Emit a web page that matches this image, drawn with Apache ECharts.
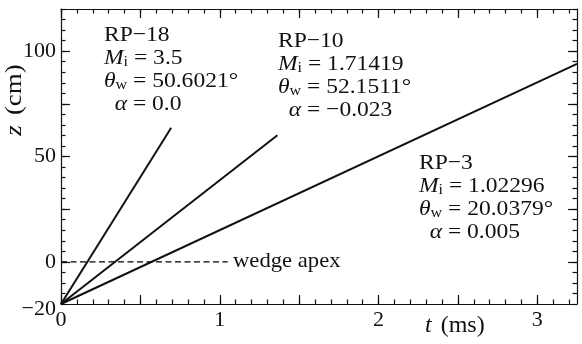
<!DOCTYPE html>
<html>
<head>
<meta charset="utf-8">
<script src="https://cdn.jsdelivr.net/npm/echarts@6/dist/echarts.min.js"></script>
<style>
  html, body { margin: 0; padding: 0; background: #fff; }
  #chart { width: 582px; height: 344px; }
</style>
</head>
<body>
<div id="chart"></div>
<script>
// Reflected-shock trajectories z(t) for three runs, all starting at the origin below the wedge apex
const runNames   = ['RP−18', 'RP−10', 'RP−3'];
const machValues = ['3.5', '1.71419', '1.02296'];
const wedgeAngle = ['50.6021', '52.1511', '20.0379'];
const alphaValue = ['0.0', '−0.023', '0.005'];

const startTime   = 0;      // ms
const startHeight = -20;    // cm
const endTimes    = [0.694, 1.363, 3.25];   // ms
const endHeights  = [63.6, 60.1, 94.0];     // cm

// Wedge apex reference line
const apexTimes   = [0, 1.05];
const apexHeights = [0, 0];
const apexText    = 'wedge apex';

// Axis ranges and ticks
const tRange = [0, 3.25];
const zRange = [-20, 120];
const tLabels = [0, 1, 2, 3];
const zLabels = [-20, 0, 50, 100];
const tMajorStep = 0.5, tMinorStep = 0.1;
const zMajorStep = 25,  zMinorStep = 5;

function stepsFrom(lo, hi, step, anchor) {
  const out = [];
  const first = Math.ceil((lo - anchor) / step - 1e-9);
  for (let k = first; anchor + k * step <= hi + 1e-9; k++) {
    out.push(+(anchor + k * step).toFixed(6));
  }
  return out;
}
const tMajor = stepsFrom(tRange[0], tRange[1], tMajorStep, 0);
const tMinor = stepsFrom(tRange[0], tRange[1], tMinorStep, 0);
const zMajor = stepsFrom(zRange[0], zRange[1], zMajorStep, 0);
const zMinor = stepsFrom(zRange[0], zRange[1], zMinorStep, 0);

const FONT = 'Liberation Serif';
const INK = '#111';
const FS = 22;
const TITLE_FS = 24;

function minusFmt(v) {
  if (v < 0) return '{lo|−' + Math.abs(v) + '}';
  return String(v);
}

function axis(range, position, ticks, len, opts) {
  opts = opts || {};
  return {
    type: 'value',
    position: position,
    min: range[0],
    max: range[1],
    axisLine: { show: !!opts.line, onZero: false, lineStyle: { color: INK, width: 1.2 } },
    axisTick: { show: true, inside: true, length: len, customValues: ticks,
                lineStyle: { color: INK, width: 1.2 } },
    axisLabel: opts.labels ? {
      show: true, customValues: opts.labels, margin: opts.margin,
      color: INK, fontFamily: FONT, fontSize: FS, formatter: minusFmt,
      rich: { lo: { fontFamily: FONT, fontSize: FS, color: INK, padding: [10, 0, 0, 0] } }
    } : { show: false },
    splitLine: { show: false },
    minorTick: { show: false }
  };
}

const xAxes = [
  axis(tRange, 'bottom', tMajor, 9, { line: true, labels: tLabels, margin: 5 }),
  axis(tRange, 'top',    tMajor, 9, { line: true }),
  axis(tRange, 'top',    tMinor, 4.5),
  axis(tRange, 'bottom', tMinor, 4.5)
];
const yAxes = [
  axis(zRange, 'left',  zMajor, 9, { line: true, labels: zLabels, margin: 5 }),
  axis(zRange, 'right', zMajor, 9, { line: true }),
  axis(zRange, 'right', zMinor, 4.5),
  axis(zRange, 'left',  zMinor, 4.5)
];

const trajectorySeries = runNames.map(function (name, i) {
  return {
    name: name,
    type: 'line',
    xAxisIndex: 0, yAxisIndex: 0,
    symbol: 'none',
    clip: true,
    silent: true,
    lineStyle: { color: INK, width: 2 },
    data: [[startTime, startHeight], [endTimes[i], endHeights[i]]]
  };
});

const apexSeries = {
  name: apexText,
  type: 'line',
  xAxisIndex: 0, yAxisIndex: 0,
  symbol: 'none',
  silent: true,
  lineStyle: { color: '#000', width: 1.2, type: [6, 3.5] },
  data: apexTimes.map(function (t, i) { return [t, apexHeights[i]]; })
};

const rich = {
  n:  { fontFamily: FONT, fontSize: FS, lineHeight: 23, fill: INK },
  i:  { fontFamily: FONT, fontSize: FS, lineHeight: 23, fontStyle: 'italic', fill: INK },
  s:  { fontFamily: FONT, fontSize: 15, lineHeight: 13, verticalAlign: 'bottom', fill: INK },
  sp: { fontFamily: FONT, fontSize: FS, lineHeight: 23, width: 10, fill: INK },
  tn: { fontFamily: FONT, fontSize: TITLE_FS, lineHeight: 26, fill: INK },
  ti: { fontFamily: FONT, fontSize: TITLE_FS, lineHeight: 26, fontStyle: 'italic', fill: INK },
  gap:{ fontFamily: FONT, fontSize: TITLE_FS, lineHeight: 26, width: 9, fill: INK }
};

function runBlock(i) {
  return [
    '{n|' + runNames[i] + '}',
    '{i|M}{s|i}{n| = ' + machValues[i] + '}',
    '{i|θ}{s|w}{n| = ' + wedgeAngle[i] + '°}',
    '{sp| }{i|α}{n| = ' + alphaValue[i] + '}'
  ].join('\n');
}

const blockPlaces = [[104, 24], [278, 30], [419, 152]];

const graphics = blockPlaces.map(function (p, i) {
  return {
    type: 'text', x: p[0], y: p[1], scaleX: 1.07, silent: true,
    style: { text: runBlock(i), rich: rich, fill: INK,
             fontFamily: FONT, fontSize: FS }
  };
});

graphics.push({
  type: 'text', x: 233, y: 250, scaleX: 1.03, silent: true,
  style: { text: apexText, fill: INK, fontFamily: FONT, fontSize: FS }
});

// Axis titles
graphics.push({
  type: 'text', x: 425, y: 313, silent: true,
  style: { text: '{ti|t}{gap| }{tn|(ms)}', rich: rich, fill: INK, fontFamily: FONT, fontSize: TITLE_FS }
});
graphics.push({
  type: 'text', x: 15, y: 100, rotation: Math.PI / 2, scaleX: 1.12, silent: true,
  style: { text: '{ti|z}{gap| }{tn|(cm)}', rich: rich, fill: INK, fontFamily: FONT, fontSize: TITLE_FS,
           align: 'center', verticalAlign: 'middle' }
});

const chart = echarts.init(document.getElementById('chart'), null, { renderer: 'canvas' });
chart.setOption({
  animation: false,
  backgroundColor: '#fff',
  grid: { left: 61, right: 5, top: 9, bottom: 40, containLabel: false },
  xAxis: xAxes,
  yAxis: yAxes,
  series: trajectorySeries.concat([apexSeries]),
  graphic: graphics
});
</script>
</body>
</html>
